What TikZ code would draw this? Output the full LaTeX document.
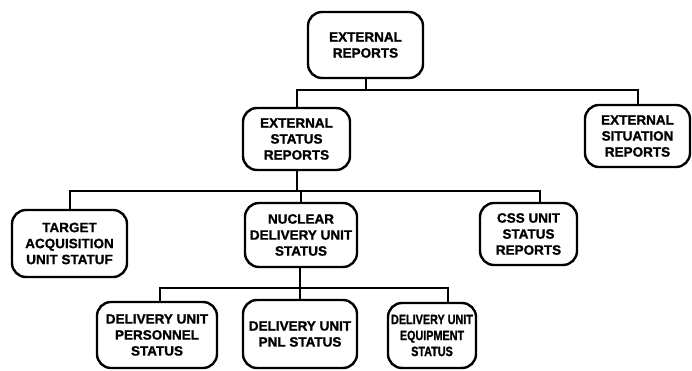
\documentclass[tikz,border=0pt]{standalone}
\usepackage{fontspec}
\setmainfont{Liberation Sans}[BoldFeatures={FakeBold=1.2}]
\newfontfamily\condfont{Liberation Sans}[FakeStretch=0.8, BoldFeatures={FakeBold=1.2}]
\begin{document}
\begin{tikzpicture}[x=1pt,y=1pt,
  box/.style={draw=black, line width=2.4pt, rounded corners=14pt, inner sep=0pt,
    align=center, font=\bfseries\fontsize{13.5}{16}\selectfont},
  link/.style={draw=black, line width=2pt}]
\useasboundingbox[fill=white] (0,0) rectangle (692,370);
% level 0
\node[box, minimum width=115pt, minimum height=66pt] (er) at (365.5,325) {EXTERNAL\\REPORTS};
% level 1
\node[box, minimum width=107pt, minimum height=62pt] (ests) at (296.5,231) {EXTERNAL\\STATUS\\REPORTS};
\node[box, minimum width=105pt, minimum height=62pt] (esr) at (637.5,234) {EXTERNAL\\SITUATION\\REPORTS};
% level 2
\node[box, minimum width=115pt, minimum height=67pt] (tgt) at (69.5,126.5) {TARGET\\ACQUISITION\\UNIT STATUF};
\node[box, minimum width=112pt, minimum height=64pt] (nuc) at (301,135) {NUCLEAR\\DELIVERY UNIT\\STATUS};
\node[box, minimum width=97pt, minimum height=62pt] (css) at (528.5,136) {CSS UNIT\\STATUS\\REPORTS};
% level 3
\node[box, minimum width=120pt, minimum height=66pt] (per) at (157,35) {DELIVERY UNIT\\PERSONNEL\\STATUS};
\node[box, minimum width=114pt, minimum height=68pt] (pnl) at (300,36) {DELIVERY UNIT\\PNL STATUS};
\node[box, minimum width=88pt, minimum height=65pt, font=\condfont\bfseries\fontsize{13.5}{16}\selectfont] (equ) at (432,34.5) {DELIVERY UNIT\\EQUIPMENT\\STATUS};
% junctions
\coordinate (j1) at (0,280);
\coordinate (j2) at (0,179);
\coordinate (j3) at (0,82);
% connectors level 0 -> 1
\draw[link] (er.south) -- (er.south |- j1);
\draw[link] (ests.north) |- (esr.north |- j1) -- (esr.north);
% connectors level 1 -> 2
\draw[link] (ests.south) -- (ests.south |- j2);
\draw[link] (tgt.north) |- ([xshift=11.5pt]css.north |- j2) -- ([xshift=11.5pt]css.north);
\draw[link] (nuc.north) -- (nuc.north |- j2);
% connectors level 2 -> 3
\draw[link] (pnl.north |- nuc.south) -- (pnl.north);
\draw[link] ([xshift=3pt]per.north) |- ([xshift=16pt]equ.north |- j3) -- ([xshift=16pt]equ.north);
\end{tikzpicture}
\end{document}
